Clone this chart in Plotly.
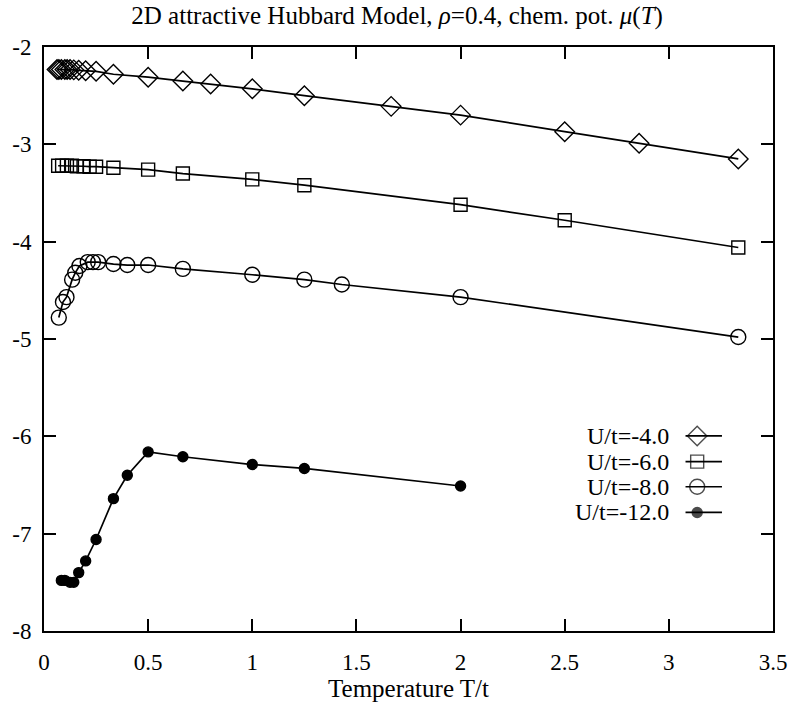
import plotly.graph_objects as go

# ---------------- data ----------------
T_u4 = [1/16, 1/14, 1/12, 1/10, 1/9, 1/8, 1/7, 1/6, 1/5, 1/4, 1/3, 1/2, 2/3, 0.8, 1.0, 1.25, 5/3, 2.0, 2.5, 20/7, 10/3]
mu_u4 = [-2.23, -2.23, -2.23, -2.23, -2.23, -2.23, -2.235, -2.24, -2.245, -2.25, -2.28, -2.31, -2.35, -2.38, -2.43, -2.50, -2.61, -2.70, -2.87, -2.99, -3.15]

T_u6 = [0.068, 0.087, 0.11, 0.134, 0.158, 0.19, 0.219, 0.25, 1/3, 0.5, 2/3, 1.0, 1.25, 2.0, 2.5, 10/3]
mu_u6 = [-3.22, -3.22, -3.22, -3.22, -3.225, -3.225, -3.23, -3.23, -3.24, -3.26, -3.30, -3.36, -3.42, -3.62, -3.78, -4.06]

T_u8 = [0.071, 0.091, 0.108, 0.135, 0.15, 0.17, 0.21, 0.235, 0.26, 1/3, 0.4, 0.5, 2/3, 1.0, 1.25, 1.43, 2.0, 10/3]
mu_u8 = [-4.78, -4.62, -4.57, -4.39, -4.32, -4.25, -4.21, -4.21, -4.21, -4.23, -4.24, -4.24, -4.28, -4.34, -4.39, -4.44, -4.57, -4.98]

T_u12 = [1/12, 0.1, 0.125, 1/7, 1/6, 0.2, 0.25, 1/3, 0.4, 0.5, 2/3, 1.0, 1.25, 2.0]
mu_u12 = [-7.48, -7.48, -7.50, -7.50, -7.40, -7.28, -7.06, -6.64, -6.40, -6.16, -6.21, -6.29, -6.33, -6.51]

series_labels = ["U/t=-4.0", "U/t=-6.0", "U/t=-8.0", "U/t=-12.0"]
x_ticks = [0, 0.5, 1, 1.5, 2, 2.5, 3, 3.5]
x_ticktext = ["0", "0.5", "1", "1.5", "2", "2.5", "3", "3.5"]
y_ticks = [-8, -7, -6, -5, -4, -3, -2]
y_ticktext = ["-8", "-7", "-6", "-5", "-4", "-3", "-2"]

title_text = "2D attractive Hubbard Model, <i>ρ</i>=0.4, chem. pot. <i>μ</i>(<i>T</i>)"
xlabel = "Temperature T/t"

# ---------------- styles ----------------
FONT = "Liberation Serif"
styles = [
    dict(symbol="diamond-open", size=15),
    dict(symbol="square-open", size=13),
    dict(symbol="circle-open", size=15),
    dict(symbol="circle", size=10),
]
data = [(T_u4, mu_u4), (T_u6, mu_u6), (T_u8, mu_u8), (T_u12, mu_u12)]

fig = go.Figure()
for (xs, ys), st in zip(data, styles):
    fig.add_trace(go.Scatter(
        x=xs, y=ys, mode="lines+markers",
        line=dict(color="black", width=1.7),
        marker=dict(symbol=st["symbol"], size=st["size"], color="black",
                    line=dict(color="black", width=1.4)),
        showlegend=False, cliponaxis=False,
    ))

# custom legend (text left of sample, as in the original)
leg_rows = [0.334, 0.290, 0.247, 0.203]
for lab, yy, st in zip(series_labels, leg_rows, styles):
    fig.add_annotation(x=0.860, y=yy, xref="paper", yref="paper", text=lab,
                       showarrow=False, xanchor="right", yanchor="middle",
                       font=dict(family=FONT, size=24, color="black"))
    fig.add_trace(go.Scatter(
        x=[0.880, 0.896, 0.930], y=[yy, yy, yy], xaxis="x2", yaxis="y2",
        mode="lines+markers", line=dict(color="black", width=1.7),
        marker=dict(symbol=st["symbol"], size=[0, st["size"], 0], color="black",
                    line=dict(color="black", width=1.4)),
        showlegend=False, hoverinfo="skip",
    ))

axis_common = dict(showline=True, linecolor="black", linewidth=2, mirror="ticks",
                   ticks="inside", ticklen=12, tickwidth=1.5, tickcolor="black",
                   showgrid=False, zeroline=False,
                   tickfont=dict(family=FONT, size=23, color="black"))

fig.update_layout(
    width=799, height=704,
    margin=dict(l=44, r=19, t=47, b=61),
    paper_bgcolor="white", plot_bgcolor="white",
    title=dict(text=title_text, x=0.497, xref="container", xanchor="center",
               y=1 - 15/704, yref="container", yanchor="middle",
               font=dict(family=FONT, size=25, color="black")),
    xaxis=dict(range=[0, 3.5], tickvals=x_ticks, ticktext=x_ticktext,
               ticklabelstandoff=9,
               title=dict(text=xlabel, font=dict(family=FONT, size=25, color="black"), standoff=0),
               **axis_common),
    yaxis=dict(range=[-8, -2], tickvals=y_ticks, ticktext=y_ticktext,
               ticklabelstandoff=6, **axis_common),
    xaxis2=dict(range=[0, 1], overlaying="x", visible=False, fixedrange=True),
    yaxis2=dict(range=[0, 1], overlaying="y", visible=False, fixedrange=True),
    showlegend=False,
)

fig.write_html("out.html")
